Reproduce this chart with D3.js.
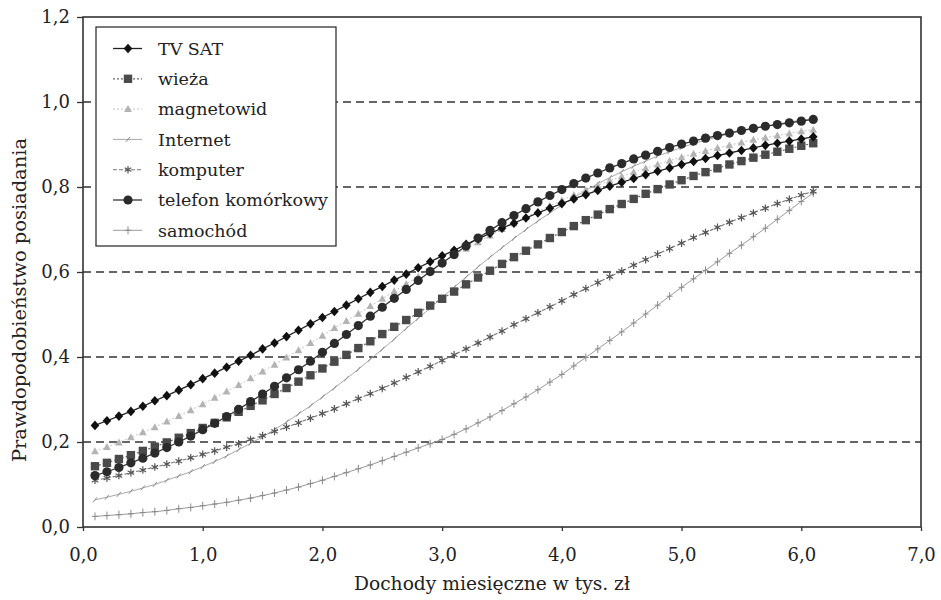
<!DOCTYPE html>
<html><head><meta charset="utf-8">
<script src="https://cdn.jsdelivr.net/npm/d3@7"></script>
<style>body{margin:0;background:#fff}svg text{font-family:"DejaVu Serif",serif;fill:#222}</style>
</head><body><svg id="c" width="941" height="600"></svg>
<script>
// ---- data ----
const incomes = [0.1,0.2,0.3,0.4,0.5,0.6,0.7,0.8,0.9,1.0,1.1,1.2,1.3,1.4,1.5,1.6,1.7,1.8,1.9,2.0,
 2.1,2.2,2.3,2.4,2.5,2.6,2.7,2.8,2.9,3.0,3.1,3.2,3.3,3.4,3.5,3.6,3.7,3.8,3.9,4.0,
 4.1,4.2,4.3,4.4,4.5,4.6,4.7,4.8,4.9,5.0,5.1,5.2,5.3,5.4,5.5,5.6,5.7,5.8,5.9,6.0,6.1];
const tvSat = [0.239,0.250,0.261,0.272,0.284,0.297,0.309,0.322,0.335,0.349,0.362,0.376,0.390,0.404,0.419,0.433,0.448,0.463,0.478,0.493,
 0.507,0.522,0.537,0.552,0.566,0.581,0.595,0.610,0.624,0.638,0.651,0.665,0.678,0.691,0.703,0.715,0.727,0.739,0.750,0.761,
 0.772,0.782,0.792,0.802,0.811,0.820,0.829,0.837,0.845,0.853,0.860,0.867,0.874,0.880,0.886,0.892,0.898,0.903,0.908,0.913,0.918];
const wieza = [0.143,0.151,0.160,0.169,0.179,0.189,0.199,0.210,0.221,0.233,0.245,0.258,0.271,0.285,0.298,0.313,0.327,0.342,0.357,0.373,
 0.389,0.405,0.421,0.437,0.454,0.471,0.487,0.504,0.521,0.537,0.554,0.571,0.587,0.603,0.619,0.635,0.650,0.665,0.680,0.694,
 0.708,0.722,0.735,0.748,0.760,0.772,0.784,0.795,0.806,0.816,0.826,0.835,0.844,0.853,0.861,0.869,0.876,0.883,0.890,0.897,0.903];
const magnetowid = [0.178,0.188,0.199,0.211,0.223,0.235,0.248,0.261,0.275,0.289,0.304,0.319,0.334,0.350,0.366,0.382,0.399,0.416,0.433,0.450,
 0.468,0.485,0.502,0.520,0.537,0.555,0.572,0.589,0.606,0.622,0.639,0.655,0.670,0.686,0.701,0.715,0.729,0.743,0.756,0.769,
 0.781,0.793,0.804,0.815,0.825,0.835,0.844,0.853,0.862,0.870,0.878,0.885,0.892,0.898,0.905,0.911,0.916,0.921,0.926,0.931,0.935];
const internet = [0.064,0.070,0.077,0.084,0.092,0.100,0.110,0.120,0.130,0.142,0.154,0.167,0.182,0.197,0.212,0.229,0.247,0.266,0.285,0.306,
 0.327,0.349,0.371,0.395,0.418,0.442,0.467,0.491,0.515,0.540,0.564,0.588,0.612,0.635,0.657,0.679,0.700,0.720,0.739,0.758,
 0.775,0.792,0.808,0.822,0.836,0.849,0.861,0.873,0.883,0.893,0.902,0.910,0.918,0.925,0.932,0.937,0.943,0.948,0.953,0.957,0.961];
const komputer = [0.110,0.115,0.121,0.128,0.134,0.141,0.148,0.155,0.163,0.171,0.179,0.188,0.196,0.206,0.215,0.225,0.235,0.245,0.256,0.267,
 0.278,0.290,0.302,0.314,0.326,0.339,0.352,0.365,0.378,0.392,0.405,0.419,0.433,0.447,0.461,0.476,0.490,0.504,0.518,0.532,
 0.547,0.561,0.575,0.589,0.602,0.616,0.629,0.642,0.655,0.668,0.681,0.693,0.705,0.717,0.728,0.739,0.750,0.761,0.771,0.781,0.790];
const telefon = [0.121,0.130,0.140,0.151,0.162,0.174,0.187,0.200,0.214,0.229,0.244,0.260,0.277,0.295,0.313,0.331,0.351,0.370,0.390,0.411,
 0.432,0.453,0.474,0.496,0.517,0.538,0.559,0.580,0.601,0.621,0.641,0.661,0.680,0.698,0.716,0.733,0.749,0.765,0.780,0.794,
 0.808,0.821,0.833,0.845,0.855,0.866,0.875,0.884,0.893,0.901,0.908,0.915,0.921,0.927,0.933,0.938,0.943,0.947,0.951,0.955,0.959];
const samochod = [0.025,0.027,0.029,0.031,0.034,0.036,0.039,0.043,0.046,0.050,0.054,0.058,0.063,0.068,0.074,0.080,0.087,0.094,0.102,0.110,
 0.119,0.128,0.137,0.146,0.156,0.166,0.176,0.186,0.196,0.206,0.218,0.231,0.245,0.259,0.274,0.290,0.306,0.323,0.341,0.359,
 0.379,0.399,0.419,0.439,0.459,0.480,0.501,0.522,0.543,0.564,0.584,0.604,0.624,0.644,0.663,0.683,0.703,0.724,0.745,0.766,0.786];
const seriesNames = ["TV SAT","wieża","magnetowid","Internet","komputer","telefon komórkowy","samochód"];
const xTicks = [0,1,2,3,4,5,6,7];
const xTickLabels = ["0,0","1,0","2,0","3,0","4,0","5,0","6,0","7,0"];
const yTicks = [0,0.2,0.4,0.6,0.8,1.0,1.2];
const yTickLabels = ["0,0","0,2","0,4","0,6","0,8","1,0","1,2"];
const gridValues = [0.2,0.4,0.6,0.8,1.0];
const xTitle = "Dochody miesięczne w tys. zł";
const yTitle = "Prawdopodobieństwo posiadania";

// ---- chart ----
const svg = d3.select("#c");
const x = d3.scaleLinear().domain([0,7]).range([83,921]);
const y = d3.scaleLinear().domain([0,1.2]).range([527,17]);

// gridlines
svg.append("g").selectAll("line").data(gridValues).join("line")
  .attr("x1", x(0)).attr("x2", x(7)).attr("y1", d=>y(d)).attr("y2", d=>y(d))
  .attr("stroke","#333").attr("stroke-width",1.3).attr("stroke-dasharray","8,5");

// axes
const yAxis = d3.axisLeft(y).tickValues(yTicks).tickFormat((d,i)=>yTickLabels[i]).tickSize(6).tickPadding(7);
const gy = svg.append("g").attr("transform",`translate(${x(0)},0)`).call(yAxis);
const xAxis = d3.axisBottom(x).tickValues(xTicks).tickFormat((d,i)=>xTickLabels[i]).tickSize(4).tickPadding(17);
const gx = svg.append("g").attr("transform",`translate(0,${y(0)})`).call(xAxis);
[gx,gy].forEach(g=>{
  g.select(".domain").remove();
  g.selectAll(".tick line").attr("stroke","#333").attr("stroke-width",1.3);
  g.selectAll(".tick text").attr("font-size",18).attr("font-family","DejaVu Serif").attr("fill","#222");
});
// frame
svg.append("rect").attr("x",x(0)).attr("y",y(1.2)).attr("width",x(7)-x(0)).attr("height",y(0)-y(1.2))
  .attr("fill","none").attr("stroke","#333").attr("stroke-width",1.6);

// axis titles
svg.append("text").attr("x",492).attr("y",590).attr("text-anchor","middle")
  .attr("font-size",18).attr("textLength",276).attr("lengthAdjust","spacingAndGlyphs").text(xTitle);
svg.append("text").attr("transform",`translate(26,300) rotate(-90)`).attr("text-anchor","middle")
  .attr("font-size",18).attr("textLength",324).attr("lengthAdjust","spacingAndGlyphs").text(yTitle);

// marker painters
const painters = {
  diamond:(g,c)=>g.append("path").attr("d","M0,-4.8L4.3,0L0,4.8L-4.3,0Z").attr("fill",c),
  square:(g,c)=>g.append("rect").attr("x",-4.2).attr("y",-4.2).attr("width",8.4).attr("height",8.4).attr("fill",c),
  triangle:(g,c)=>g.append("path").attr("d","M0,-4L3.8,3L-3.8,3Z").attr("fill",c),
  slash:(g,c)=>g.append("path").attr("d","M-2,2.5L2,-2.5").attr("stroke",c).attr("stroke-width",1),
  star:(g,c)=>g.append("path").attr("d",d3.symbol(d3.symbolAsterisk,40)()).attr("stroke",c).attr("stroke-width",1.2).attr("fill","none"),
  circle:(g,c)=>g.append("circle").attr("r",4.6).attr("fill",c),
  plus:(g,c)=>g.append("path").attr("d","M0,-4L0,4M-3,0L3,0").attr("stroke",c).attr("stroke-width",1)
};
const styles = [
  {vals:tvSat, marker:"diamond", color:"#111", line:"#222", w:1.3, dash:null},
  {vals:wieza, marker:"square", color:"#4a4a4a", line:"#666", w:1.2, dash:"2,2"},
  {vals:magnetowid, marker:"triangle", color:"#b3b3b3", line:"#c4c4c4", w:1, dash:"2,2"},
  {vals:internet, marker:"slash", color:"#888", line:"#a8a8a8", w:1, dash:null},
  {vals:komputer, marker:"star", color:"#555", line:"#777", w:1.1, dash:"4,2"},
  {vals:telefon, marker:"circle", color:"#2b2b2b", line:"#333", w:1.3, dash:null},
  {vals:samochod, marker:"plus", color:"#8a8a8a", line:"#9a9a9a", w:1, dash:null}
];
const drawOrder = [6,3,4,2,1,0,5];
const line = d3.line().x(d=>x(d[0])).y(d=>y(d[1]));
drawOrder.forEach(i=>{
  const s = styles[i];
  const pts = incomes.map((v,k)=>[v,s.vals[k]]);
  const g = svg.append("g");
  g.append("path").attr("d",line(pts)).attr("fill","none").attr("stroke",s.line)
    .attr("stroke-width",s.w).attr("stroke-dasharray",s.dash);
  pts.forEach(p=>{
    const m = g.append("g").attr("transform",`translate(${x(p[0])},${y(p[1])})`);
    painters[s.marker](m,s.color);
  });
});

// legend
const lg = svg.append("g");
lg.append("rect").attr("x",96).attr("y",27).attr("width",240).attr("height",219)
  .attr("fill","#fff").attr("stroke","#333").attr("stroke-width",1.3);
seriesNames.forEach((name,i)=>{
  const s = styles[i];
  const cy = 48.5 + i*30.3;
  lg.append("line").attr("x1",113).attr("x2",142).attr("y1",cy).attr("y2",cy)
    .attr("stroke",s.line).attr("stroke-width",s.w).attr("stroke-dasharray",s.dash);
  const m = lg.append("g").attr("transform",`translate(128,${cy})`);
  painters[s.marker](m,s.color);
  lg.append("text").attr("x",158).attr("y",cy).attr("dy","0.36em").attr("font-size",17.5).text(name);
});
</script></body></html>
